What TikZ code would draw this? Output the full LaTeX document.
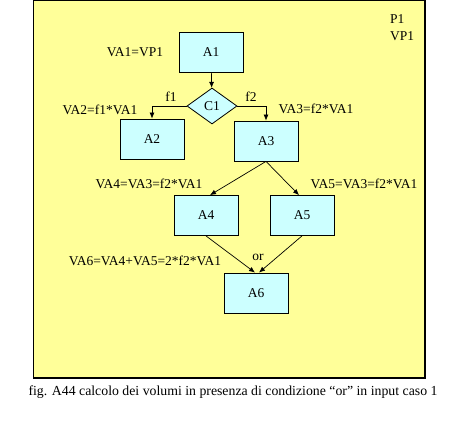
\documentclass[tikz,border=0pt]{standalone}
\usepackage{fontspec}
\setmainfont{Liberation Serif}
\usetikzlibrary{arrows.meta,shapes.geometric}
\definecolor{sheet}{HTML}{FFFF99}
\definecolor{act}{HTML}{CCFFFF}
\tikzset{box/.style={draw=black,fill=act,line width=0.8pt,minimum width=64pt,minimum height=40pt,inner sep=0pt,font=\fontsize{13.5}{15}\selectfont},cond/.style={diamond,draw=black,fill=act,line width=0.8pt,minimum width=50pt,minimum height=36pt,inner sep=0pt,font=\fontsize{13.5}{15}\selectfont},arrow/.style={-{Latex[length=6pt,width=5pt]},line width=0.7pt},lab/.style={inner sep=0pt,font=\fontsize{13.5}{17}\selectfont}}
\begin{document}
\begin{tikzpicture}[x=1pt,y=-1pt]
\useasboundingbox[fill=white] (0,0) rectangle (468,425);
\draw[fill=sheet,line width=1.4pt] (33.5,0.7) rectangle (425,378);
\node[box] (a1) at (211,52.5) {A1};
\node[cond] (c1) at (212,106) {C1};
\node[box] (a2) at (152,139) {A2};
\node[box] (a3) at (266,141) {A3};
\node[box] (a4) at (206,215.5) {A4};
\node[box] (a5) at (302,215.5) {A5};
\node[box] (a6) at (256,293) {A6};
\draw[arrow](a1)--(c1);
\draw[arrow](c1.west)-|(a2.north);\draw[arrow](c1.east)-|(a3.north);
\draw[arrow](a3.south)--([xshift=4pt]a4.north);\draw[arrow](a3.south)--([xshift=-3pt]a5.north);
\draw[arrow](a4.south)--([xshift=-1pt]a6.north);\draw[arrow](a5.south)--([xshift=3pt]a6.north);
\node[lab] (f1) at (171,97) {f1};
\node[lab] (f2) at (251,97) {f2};
\node[lab] (or) at (258,257) {or};
\node[lab] (va1) at (135,52) {VA1=VP1};
\node[lab] (va2) at (100,110) {VA2=f1*VA1};
\node[lab] (va3) at (316,109) {VA3=f2*VA1};
\node[lab] (va4) at (149,184) {VA4=VA3=f2*VA1};
\node[lab] (va5) at (364,184) {VA5=VA3=f2*VA1};
\node[lab] (va6) at (145,261) {VA6=VA4+VA5=2*f2*VA1};
\node[lab,align=left,anchor=west] (p1) at (390,28) {P1\\VP1};
\node[lab,font=\fontsize{13.8}{15}\selectfont] (cap) at (233,392) {fig. A44 calcolo dei volumi in presenza di condizione “or” in input caso 1};
\end{tikzpicture}
\end{document}
